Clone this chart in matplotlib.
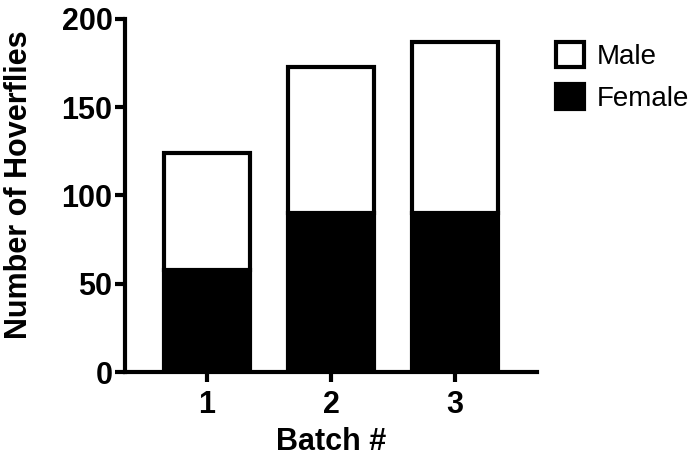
from matplotlib import pyplot as plt
from matplotlib.patches import Patch
import numpy as np

batches = [1, 2, 3]
female = [58, 90, 90]
male = [66, 83, 97]


def main():
    plt.rcParams['font.family'] = ['Liberation Sans', 'DejaVu Sans']
    fig = plt.figure(figsize=(7, 4.61), dpi=100)
    ax = fig.add_axes([125/700, 89/461, 412/700, 353/461])

    x = np.array(batches)
    ax.bar(x, female, width=0.69, color='black', edgecolor='black', linewidth=3)
    ax.bar(x, male, width=0.69, bottom=female, color='white', edgecolor='black', linewidth=3)

    ax.set_xlim(0.34, 3.66)
    ax.set_ylim(0, 200)
    ax.set_yticks([0, 50, 100, 150, 200])
    ax.set_xticks(batches)

    ax.spines[["top", "right"]].set_visible(False)
    for s in ["left", "bottom"]:
        ax.spines[s].set_linewidth(3)
    ax.tick_params(width=3, length=7, labelsize=22)
    ax.tick_params(axis='y', pad=2)
    ax.tick_params(axis='x', pad=6)
    for lab in ax.get_xticklabels() + ax.get_yticklabels():
        lab.set_fontweight('bold')

    ax.set_xlabel('Batch #', fontsize=22, fontweight='bold', labelpad=5)
    ax.set_ylabel('Number of Hoverflies', fontsize=22, fontweight='bold')
    ax.yaxis.set_label_coords(-0.222, 0.53)

    handles = [Patch(facecolor='white', edgecolor='black', linewidth=3, label='Male'),
               Patch(facecolor='black', edgecolor='black', linewidth=3, label='Female')]
    fig.legend(handles=handles, loc='upper left', bbox_to_anchor=(545/700, 1 - 31/461),
               frameon=False, fontsize=20, handlelength=1.0, handleheight=1.0,
               handletextpad=0.45, labelspacing=0.5, borderaxespad=0)

    fig.savefig('out.png', dpi=100)


if __name__ == '__main__':
    main()
